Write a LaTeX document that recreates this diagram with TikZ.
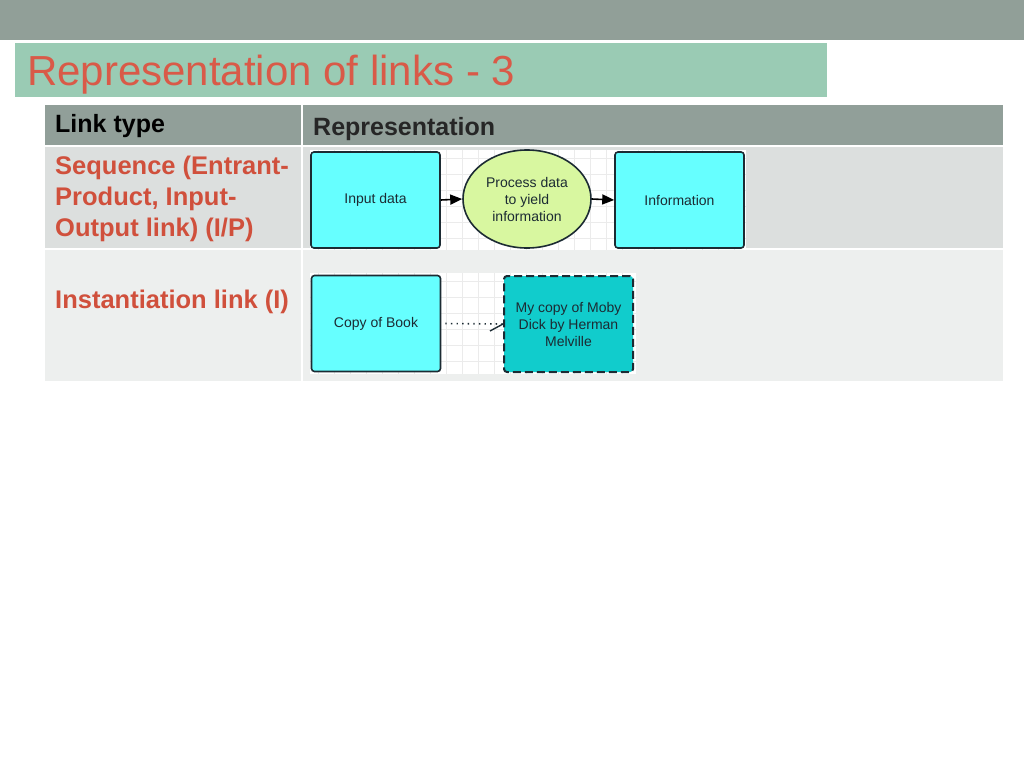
\documentclass[tikz,border=0pt]{standalone}
\usepackage{fontspec}
\setmainfont{Liberation Sans}
\usetikzlibrary{shapes.geometric,arrows.meta}
\definecolor{band}{HTML}{919F98}
\definecolor{titlebg}{HTML}{9ACBB4}
\definecolor{titlered}{HTML}{D95A48}
\definecolor{hdr}{HTML}{919F99}
\definecolor{rowa}{HTML}{DCDFDE}
\definecolor{rowb}{HTML}{EDEFEE}
\definecolor{redtxt}{HTML}{D0503C}
\definecolor{cyanbox}{HTML}{66FFFF}
\definecolor{darkcyan}{HTML}{11CCCC}
\definecolor{lgreen}{HTML}{D8F7A0}
\definecolor{bord}{HTML}{1C2B33}
\definecolor{gridc}{HTML}{EBEBEB}
\tikzset{
  hdrtxt/.style={anchor=base west, inner sep=0pt, font=\bfseries\fontsize{25}{29}\selectfont},
  redlab/.style={anchor=north west, inner sep=0pt, align=left, text=redtxt, font=\bfseries\fontsize{25.5}{31}\selectfont},
  ibox/.style={draw=bord, line width=1.6pt, rounded corners=3pt, fill=cyanbox, minimum width=129pt, minimum height=96pt, inner sep=2pt, align=center, font=\fontsize{14}{17}\selectfont, text=bord},
  dbox/.style={ibox, fill=darkcyan, dash pattern=on 8pt off 4pt, line width=2pt},
  proc/.style={ellipse, draw=bord, line width=1.6pt, fill=lgreen, minimum width=128pt, minimum height=98pt, inner sep=0pt, align=center, font=\fontsize{14}{17}\selectfont, text=bord},
  flow/.style={line width=1.6pt, -{Triangle[length=12pt,width=10pt]}},
  inst/.style={line width=1.6pt, bord, dash pattern=on 1.4pt off 4.2pt}
}
\begin{document}
\begin{tikzpicture}[x=1pt,y=-1pt]
\useasboundingbox (0,0) rectangle (1024,768);
\fill[white] (0,0) rectangle (1024,768);
% top band
\fill[band] (0,0) rectangle (1024,40);
% title
\fill[titlebg] (15,43) rectangle (827,97);
\node[anchor=base west, inner sep=0pt, text=titlered, font=\fontsize{42}{46}\selectfont] (title) at (27,85) {Representation of links - 3};
% table
\fill[hdr] (45,105) rectangle (1003,145);
\fill[rowa] (45,147) rectangle (1003,248);
\fill[rowb] (45,250) rectangle (1003,381);
\fill[white] (301,105) rectangle (303,381);
\node[hdrtxt] (h1) at (55,132) {Link type};
\node[hdrtxt, text=black!85] (h2) at (313,135) {Representation};
\node[redlab] (r1) at (55,156) {Sequence (Entrant-\\Product, Input-\\Output link) (I/P)};
\node[redlab] (r2) at (55,290) {Instantiation link (I)};
% image backgrounds with grid
\fill[white] (310,150) rectangle (746,250);
\begin{scope}
\clip (310,150) rectangle (746,250);
\foreach \gx in {318,334,...,746} \draw[gridc, line width=0.6pt] (\gx,150) -- (\gx,250);
\foreach \gy in {158,174,...,250} \draw[gridc, line width=0.6pt] (310,\gy) -- (746,\gy);
\end{scope}
\fill[white] (310,273) rectangle (636,374);
\begin{scope}
\clip (310,273) rectangle (636,374);
\foreach \gx in {318,334,...,636} \draw[gridc, line width=0.6pt] (\gx,273) -- (\gx,374);
\foreach \gy in {281,297,...,374} \draw[gridc, line width=0.6pt] (310,\gy) -- (636,\gy);
\end{scope}
% row 1 diagram
\node[ibox] (in) at (375.5,200) {Input data};
\node[proc] (pr) at (527,199) {Process data\\to yield\\information};
\node[ibox] (inf) at (679.5,200) {Information};
\draw[flow] (in.east) -- (pr.west);
\draw[flow] (pr.east) -- (inf.west);
% row 2 diagram
\node[ibox] (cb) at (376,323.5) {Copy of Book};
\node[dbox, minimum height=96pt] (mc) at (568.5,324) {My copy of Moby\\Dick by Herman\\Melville};
\draw[inst] ([xshift=4pt]cb.east) -- (mc.west);
\coordinate (tk) at (490,331);
\draw[bord, line width=1.4pt] (tk) -- (mc.west);
\end{tikzpicture}
\end{document}
